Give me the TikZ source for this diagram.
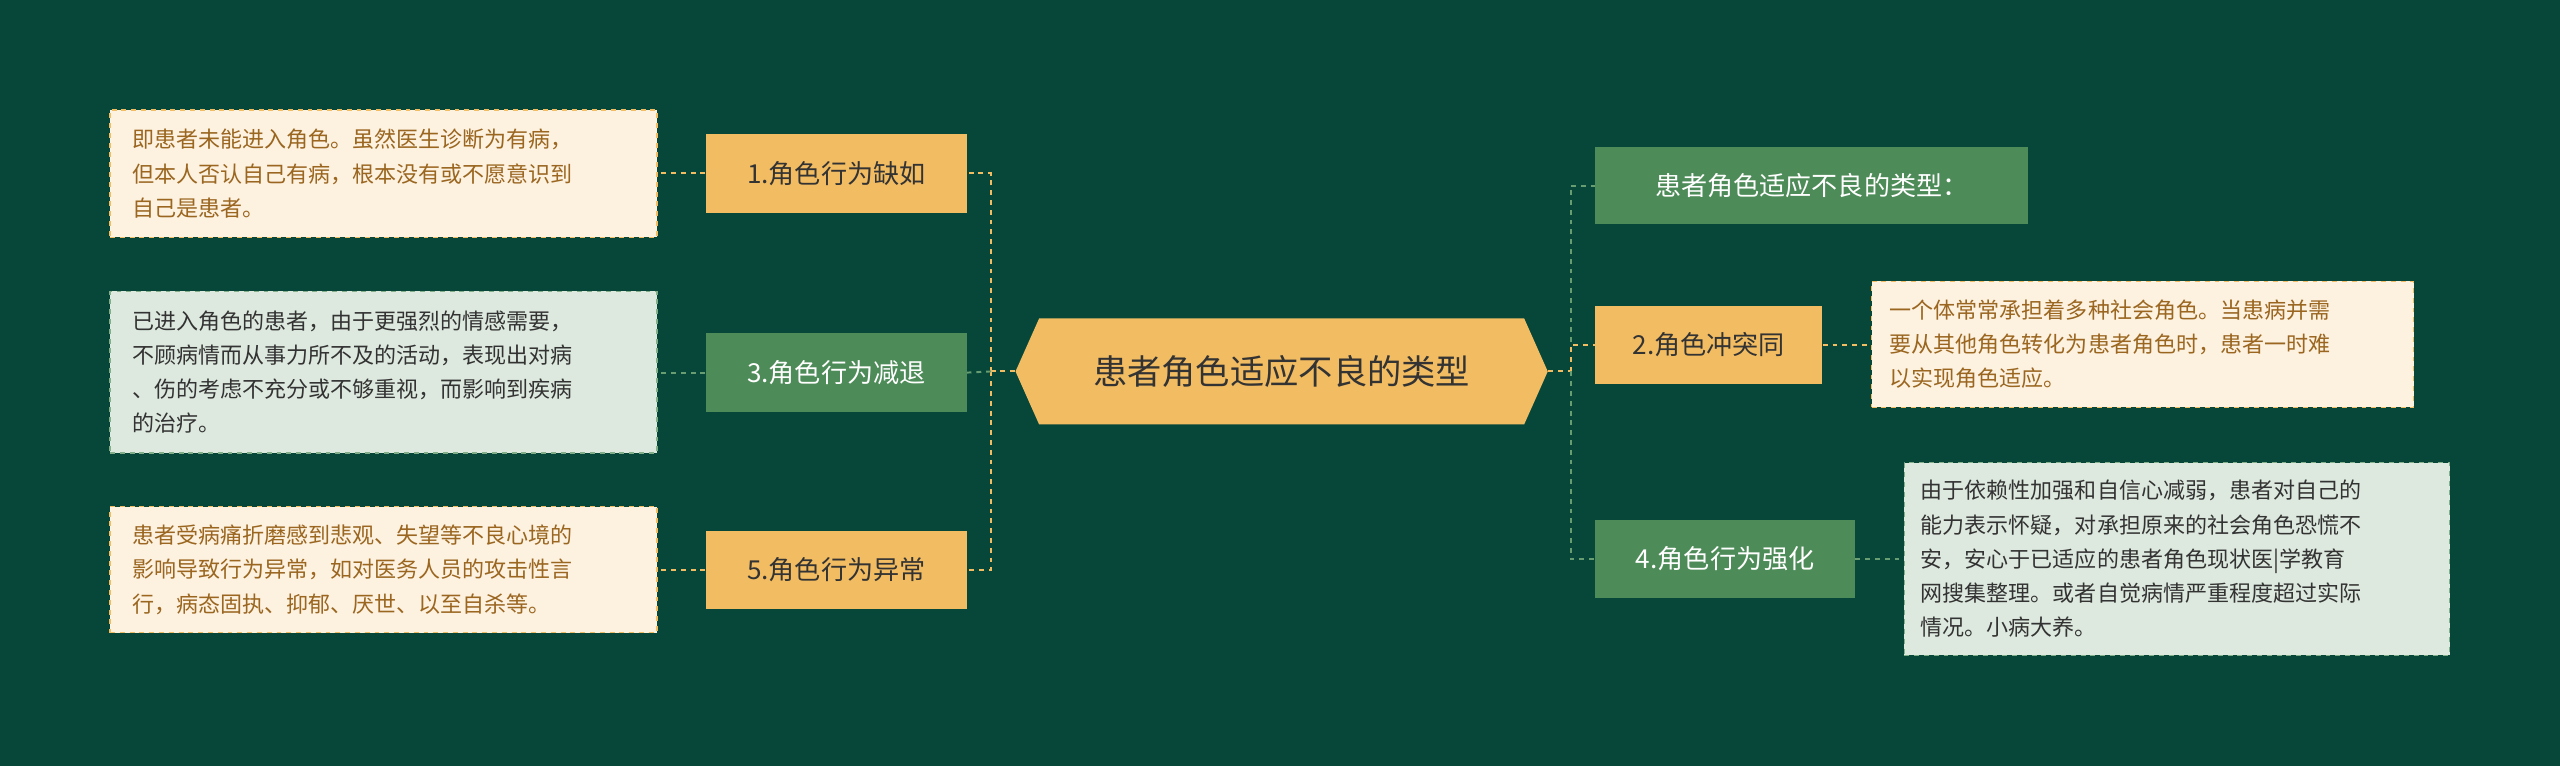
\documentclass[tikz,border=0pt]{standalone}
\usepackage{fontspec}
\setmainfont{Noto Sans CJK SC}
\usetikzlibrary{shapes.symbols}
\definecolor{bg}{HTML}{06473A}
\definecolor{org}{HTML}{F2BC62}
\definecolor{grn}{HTML}{4D8B58}
\definecolor{cream}{HTML}{FDF1E0}
\definecolor{lgrn}{HTML}{DDE9DF}
\definecolor{brown}{HTML}{9A6620}
\definecolor{dtxt}{HTML}{333333}
\tikzset{
 br/.style={anchor=north west,inner sep=0pt,minimum height=48pt,font=\fontsize{16}{20}\selectfont},
 bro/.style={br,fill=org,text=dtxt},
 brg/.style={br,fill=grn,text=white},
 leaf/.style={anchor=north west,inner sep=0pt,draw,dashed,line width=0.8pt,align=left,font=\fontsize{13.5}{21}\selectfont},
 lc/.style={leaf,fill=cream,draw=org,text=brown},
 lg/.style={leaf,fill=lgrn,draw=grn!70,text=dtxt},
 co/.style={draw=org,dashed,line width=1.2pt},
 cg/.style={draw=grn!85!white,dashed,line width=1.2pt},
}
\begin{document}
\begin{tikzpicture}[x=1pt,y=-1pt]
\fill[bg] (0,0) rectangle (1568,469);
\useasboundingbox (0,0) rectangle (1568,469);
\node[signal,signal to=west and east,signal pointer angle=132,fill=org,minimum width=326pt,minimum height=65pt,inner sep=0pt,text=dtxt,font=\fontsize{21}{24}\selectfont] (c) at (785,227.5) {患者角色适应不良的类型};
% left branches
\node[bro,minimum width=160pt] (b1) at (432,82) {1.角色行为缺如};
\node[brg,minimum width=160pt] (b3) at (432,204) {3.角色行为减退};
\node[bro,minimum width=160pt] (b5) at (432,325) {5.角色行为异常};
\node[lc,minimum width=335pt,minimum height=78pt] (l1) at (67,67) {\hspace*{10pt}\parbox{318pt}{即患者未能进入角色。虽然医生诊断为有病，\\但本人否认自己有病，根本没有或不愿意识到\\自己是患者。}};
\node[lg,minimum width=335pt,minimum height=99pt] (l3) at (67,178) {\hspace*{10pt}\parbox{318pt}{已进入角色的患者，由于更强烈的情感需要，\\不顾病情而从事力所不及的活动，表现出对病\\、伤的考虑不充分或不够重视，而影响到疾病\\的治疗。}};
\node[lc,minimum width=335pt,minimum height=77pt] (l5) at (67,310) {\hspace*{10pt}\parbox{318pt}{患者受病痛折磨感到悲观、失望等不良心境的\\影响导致行为异常，如对医务人员的攻击性言\\行，病态固执、抑郁、厌世、以至自杀等。}};
% right branches
\node[brg,minimum width=265pt,minimum height=47pt] (r0) at (977,90) {患者角色适应不良的类型：};
\node[bro,minimum width=139pt] (b2) at (977,187) {2.角色冲突同};
\node[brg,minimum width=159pt] (b4) at (977,318) {4.角色行为强化};
\node[lc,minimum width=332pt,minimum height=77pt] (l2) at (1146,172) {\hspace*{8pt}\parbox{318pt}{一个体常常承担着多种社会角色。当患病并需\\要从其他角色转化为患者角色时，患者一时难\\以实现角色适应。}};
\node[lg,minimum width=334pt,minimum height=118pt] (l4) at (1166,283) {\hspace*{8pt}\parbox{322pt}{由于依赖性加强和自信心减弱，患者对自己的\\能力表示怀疑，对承担原来的社会角色恐慌不\\安，安心于已适应的患者角色现状医|学教育\\网搜集整理。或者自觉病情严重程度超过实际\\情况。小病大养。}};
% connectors left
\coordinate (jl) at (607,227.5);
\draw[co] (c.west) -- (jl);
\draw[co] (jl) |- (b1.east);
\draw[co] (jl) |- (b5.east);
\draw[cg] (jl) -- (b3.east);
\draw[co] (b1.west) -- (l1.east|-b1.west);
\draw[cg] (b3.west) -- (l3.east|-b3.west);
\draw[co] (b5.west) -- (l5.east|-b5.west);
% connectors right
\coordinate (jr) at (962,227.5);
\draw[co] (c.east) -- (jr);
\draw[cg] (jr) |- (r0.west);
\draw[co] (jr) |- (b2.west);
\draw[cg] (jr) |- (b4.west);
\draw[co] (b2.east) -- (l2.west|-b2.east);
\draw[cg] (b4.east) -- (l4.west|-b4.east);
\end{tikzpicture}
\end{document}
